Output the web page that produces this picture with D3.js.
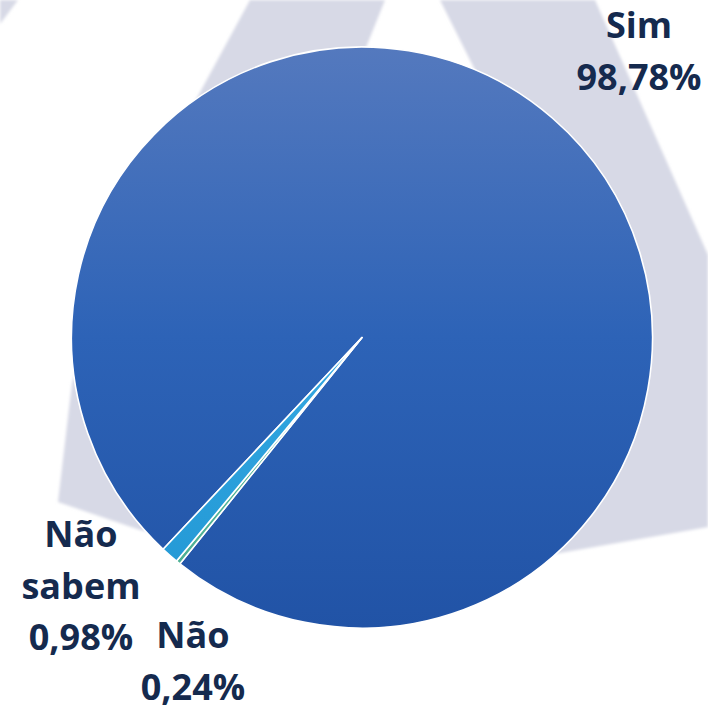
<!DOCTYPE html>
<html>
<head>
<meta charset="utf-8">
<script src="https://cdn.jsdelivr.net/npm/d3@7"></script>
<style>
    body { margin: 0; background: #ffffff; }
    .label { font-family: "Open Sans", sans-serif; font-weight: 700; font-size: 36px; fill: #152a4e; }
</style>
</head>
<body>
<div id="chart"></div>
<script>
// data
var categories = ["Sim", "Não", "Não sabem"];
var values = [98.78, 0.24, 0.98];
var valueLabels = ["98,78%", "0,24%", "0,98%"];
var labelLines = [["Sim"], ["Não"], ["Não", "sabem"]];

var width = 708,
    height = 711,
    cx = 362,
    cy = 337.5,
    radius = 290.5;

// excel rotation of first slice (degrees)
var firstSliceAngle = 223.2;

// label block placement: centre x and first baseline
var labelPos = [
    {x: 639, y: 38},
    {x: 193, y: 648},
    {x: 81, y: 547}
];
var lineHeight = 51.5;

var svg = d3.select("#chart").append("svg")
    .attr("width", width)
    .attr("height", height);

var defs = svg.append("defs");

function makeGradient(id, stops) {
    var g = defs.append("linearGradient")
        .attr("id", id)
        .attr("gradientUnits", "userSpaceOnUse")
        .attr("x1", 0).attr("y1", -radius)
        .attr("x2", 0).attr("y2", radius);
    stops.forEach(function (s) {
        g.append("stop").attr("offset", s[0]).attr("stop-color", s[1]);
    });
}

makeGradient("g-sim", [[0, "#5479be"], [0.5, "#2d63b7"], [1, "#2153a6"]]);
makeGradient("g-nao", [[0, "#6cc6a8"], [1, "#4aae92"]]);
makeGradient("g-ns", [[0, "#4ab4ea"], [0.5, "#34a8e2"], [1, "#2096d3"]]);

var fills = ["url(#g-sim)", "url(#g-nao)", "url(#g-ns)"];

defs.append("filter")
    .attr("id", "soft")
    .append("feGaussianBlur")
    .attr("stdDeviation", 1.6);

// watermark behind the pie
var wm = svg.append("g")
    .attr("filter", "url(#soft)")
    .style("fill", "#d7d9e6");

wm.append("path")
    .attr("fill-rule", "evenodd")
    .attr("d", "M250,0 L185,120 L110,260 L72,383 L58,502 L140,530 Q350,575 560,553 L708,527 L708,255 L595,0 Z " +
        "M385,0 L440,0 L560,240 L289,240 Z");

wm.append("path")
    .attr("d", "M0,0 L18,0 L0,24 Z");

var pie = d3.pie()
    .sort(null)
    .startAngle(firstSliceAngle * Math.PI / 180)
    .endAngle(firstSliceAngle * Math.PI / 180 + 2 * Math.PI)
    .value(function (d) { return d; });

var arc = d3.arc()
    .innerRadius(0)
    .outerRadius(radius);

var arcs = pie(values);

var g = svg.append("g")
    .attr("transform", "translate(" + cx + "," + cy + ")");

g.selectAll("path.slice")
    .data(arcs)
    .enter().append("path")
    .attr("class", "slice")
    .attr("d", arc)
    .style("fill", function (d, i) { return fills[i]; })
    .style("stroke", "#ffffff")
    .style("stroke-width", 1.6)
    .style("stroke-linejoin", "round");

var labels = svg.append("g");

arcs.forEach(function (d, i) {
    var lines = labelLines[i].concat([valueLabels[i]]);
    var t = labels.append("text")
        .attr("class", "label")
        .attr("text-anchor", "middle");
    lines.forEach(function (line, j) {
        t.append("tspan")
            .attr("x", labelPos[i].x)
            .attr("y", labelPos[i].y + j * lineHeight)
            .text(line);
    });
});
</script>
</body>
</html>
